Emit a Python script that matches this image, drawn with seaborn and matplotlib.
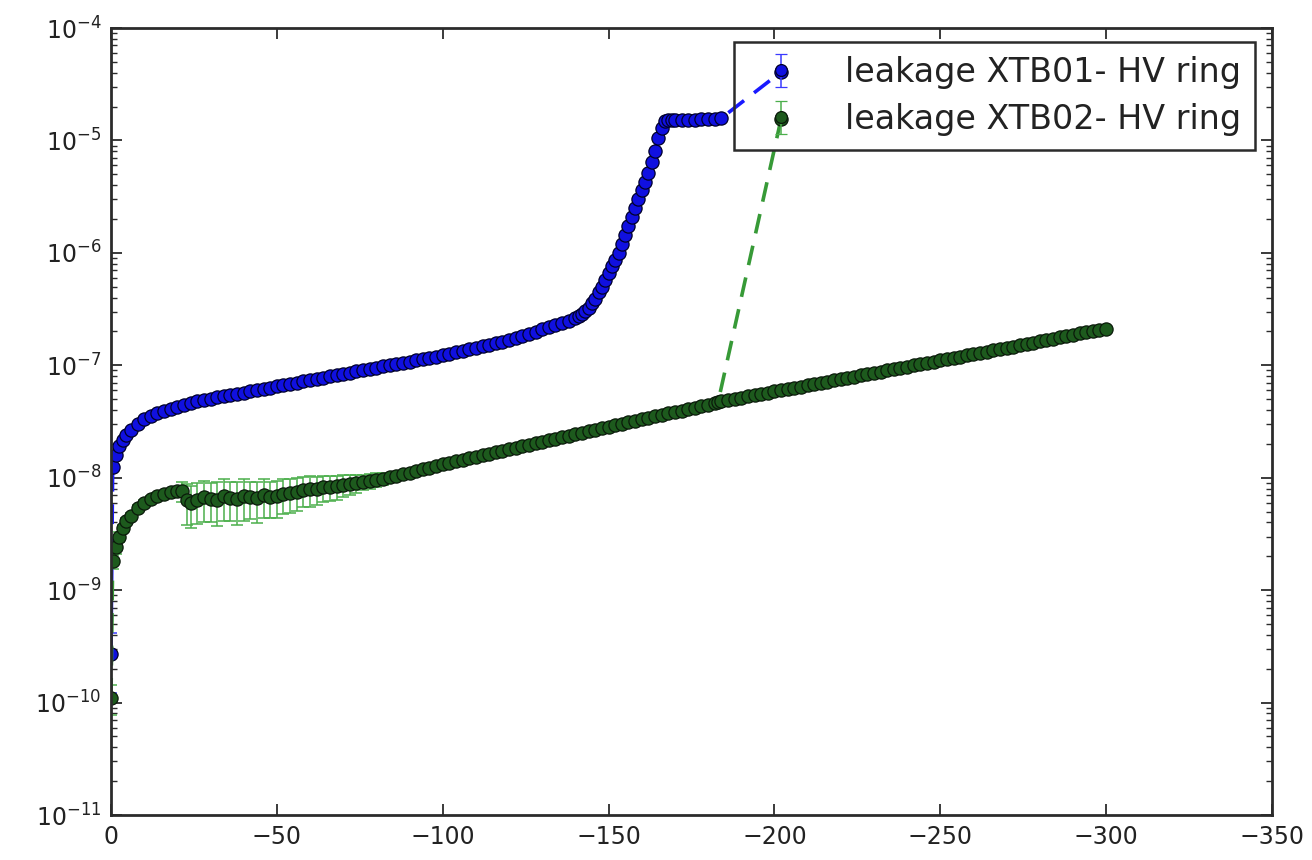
import numpy as np
import pandas as pd
import matplotlib
matplotlib.use("Agg")
import matplotlib.pyplot as plt
from matplotlib.ticker import LogLocator, FixedLocator
import seaborn as sns

# ---------------- measured IV data (bias voltage in V, leakage current in A) ----------------
xtb01_voltage = [
    0, -0.5, -1.5, -2.5, -3.5, -4.5, -6, -8, -10, -12, -14, -16, -18, -20, -22, -24, -26,
    -28, -30, -32, -34, -36, -38, -40, -42, -44, -46,
    -48, -50, -52, -54, -56, -58, -60, -62, -64, -66,
    -68, -70, -72, -74, -76, -78, -80, -82, -84, -86,
    -88, -90, -92, -94, -96, -98, -100,
    -102, -104, -106, -108, -110, -112, -114, -116, -118, -120,
    -122, -124, -126, -128, -130, -132, -134, -136, -138, -140,
    -141, -142, -143, -144, -145, -146, -147, -148, -149, -150,
    -151, -152, -153, -154, -155, -156, -157, -158, -159, -160,
    -161, -162, -163, -164, -165, -166, -167, -168, -169, -170,
    -172, -174, -176, -178, -180, -182, -184,
    -202,
]
xtb01_current = [
    2.7e-10, 1.25e-8, 1.6e-8, 1.9e-8, 2.15e-8, 2.4e-8, 2.65e-8, 3.0e-8, 3.3e-8, 3.55e-8, 3.75e-8, 3.95e-8, 4.1e-8, 4.25e-8, 4.42e-8, 4.6e-8, 4.8e-8,
    4.92e-8, 5.05e-8, 5.18e-8, 5.31e-8, 5.45e-8, 5.59e-8, 5.73e-8, 5.88e-8, 6.03e-8, 6.18e-8,
    6.34e-8, 6.51e-8, 6.67e-8, 6.85e-8, 7.02e-8, 7.20e-8, 7.39e-8, 7.58e-8, 7.77e-8, 7.97e-8,
    8.18e-8, 8.39e-8, 8.60e-8, 8.82e-8, 9.05e-8, 9.28e-8, 9.52e-8, 9.77e-8, 1.002e-7, 1.028e-7,
    1.054e-7, 1.081e-7, 1.109e-7, 1.138e-7, 1.167e-7, 1.197e-7, 1.228e-7,
    1.266e-7, 1.305e-7, 1.346e-7, 1.388e-7, 1.431e-7, 1.475e-7, 1.521e-7, 1.568e-7, 1.617e-7, 1.667e-7,
    1.744e-7, 1.824e-7, 1.908e-7, 1.996e-7, 2.088e-7, 2.184e-7, 2.284e-7, 2.389e-7, 2.499e-7, 2.62e-7,
    2.72e-7, 2.85e-7, 3.02e-7, 3.24e-7, 3.55e-7, 3.89e-7, 4.47e-7, 5.01e-7, 5.75e-7, 6.61e-7,
    7.59e-7, 8.71e-7, 1.0e-6, 1.20e-6, 1.45e-6, 1.74e-6, 2.09e-6, 2.51e-6, 3.02e-6, 3.63e-6,
    4.27e-6, 5.13e-6, 6.46e-6, 8.13e-6, 1.05e-5, 1.29e-5, 1.48e-5, 1.53e-5, 1.53e-5, 1.53e-5,
    1.52e-5, 1.52e-5, 1.53e-5, 1.54e-5, 1.55e-5, 1.56e-5, 1.58e-5,
    4.07e-5,
]
# relative uncertainty of each reading
xtb01_rel_error = [
    0.55, 0.03, 0.03, 0.03, 0.02, 0.02, 0.02, 0.02, 0.02, 0.02, 0.02, 0.02, 0.02, 0.02, 0.02, 0.02, 0.02,
    0.02, 0.02, 0.02, 0.02, 0.02, 0.02, 0.02, 0.02, 0.02, 0.02,
    0.02, 0.02, 0.02, 0.02, 0.02, 0.02, 0.02, 0.02, 0.02, 0.02,
    0.02, 0.02, 0.02, 0.02, 0.02, 0.02, 0.02, 0.02, 0.02, 0.02,
    0.02, 0.02, 0.02, 0.02, 0.02, 0.02, 0.02,
    0.02, 0.02, 0.02, 0.02, 0.02, 0.02, 0.02, 0.02, 0.02, 0.02,
    0.02, 0.02, 0.02, 0.02, 0.02, 0.02, 0.02, 0.02, 0.02, 0.02,
    0.02, 0.02, 0.02, 0.02, 0.02, 0.02, 0.02, 0.02, 0.02, 0.02,
    0.02, 0.02, 0.02, 0.02, 0.02, 0.02, 0.02, 0.02, 0.02, 0.02,
    0.02, 0.02, 0.02, 0.02, 0.02, 0.02, 0.02, 0.02, 0.02, 0.02,
    0.02, 0.02, 0.02, 0.02, 0.02, 0.02, 0.02,
    0.0,
]

xtb02_voltage = [
    0, -0.5, -1.5, -2.5, -3.5, -4.5, -6, -8, -10, -12, -14, -16, -18, -20, -21.5, -23, -24,
    -26, -28, -30, -32, -34, -36, -38, -40, -42, -44,
    -46, -48, -50, -52, -54, -56, -58, -60, -62, -64,
    -66, -68, -70, -72, -74, -76, -78, -80, -82, -84,
    -86, -88, -90, -92, -94, -96, -98, -100,
    -102, -104, -106, -108, -110, -112, -114, -116, -118, -120,
    -122, -124, -126, -128, -130, -132, -134, -136, -138, -140,
    -142, -144, -146, -148, -150, -152, -154, -156, -158, -160,
    -162, -164, -166, -168, -170, -172, -174, -176, -178, -180,
    -182, -183,
    -202,
    -184,
    -186, -188, -190, -192, -194, -196, -198, -200, -202, -204,
    -206, -208, -210, -212, -214, -216, -218, -220, -222, -224,
    -226, -228, -230, -232, -234, -236, -238, -240, -242, -244,
    -246, -248, -250, -252, -254, -256, -258, -260, -262, -264,
    -266, -268, -270, -272, -274, -276, -278, -280, -282, -284,
    -286, -288, -290, -292, -294, -296, -298, -300,
]
xtb02_current = [
    1.1e-10, 1.8e-9, 2.4e-9, 3.0e-9, 3.55e-9, 4.1e-9, 4.6e-9, 5.4e-9, 6.0e-9, 6.5e-9, 6.9e-9, 7.2e-9, 7.5e-9, 7.7e-9, 7.6e-9, 6.3e-9, 6.0e-9,
    6.4e-9, 6.7e-9, 6.5e-9, 6.4e-9, 6.9e-9, 6.6e-9, 6.5e-9, 6.9e-9, 6.7e-9, 6.6e-9,
    7.0e-9, 6.8e-9, 6.9e-9, 7.2e-9, 7.3e-9, 7.5e-9, 7.8e-9, 7.9e-9, 8.0e-9, 8.2e-9,
    8.3e-9, 8.4e-9, 8.6e-9, 8.8e-9, 9.0e-9, 9.2e-9, 9.4e-9, 9.6e-9, 9.8e-9, 10.1e-9,
    10.4e-9, 10.7e-9, 11.1e-9, 11.5e-9, 11.9e-9, 12.3e-9, 12.8e-9, 13.2e-9,
    1.36e-8, 1.40e-8, 1.445e-8, 1.49e-8, 1.536e-8, 1.584e-8, 1.633e-8, 1.684e-8, 1.736e-8, 1.79e-8,
    1.845e-8, 1.90e-8, 1.96e-8, 2.02e-8, 2.085e-8, 2.15e-8, 2.217e-8, 2.286e-8, 2.357e-8, 2.43e-8,
    2.505e-8, 2.583e-8, 2.663e-8, 2.746e-8, 2.831e-8, 2.919e-8, 3.01e-8, 3.103e-8, 3.2e-8, 3.3e-8,
    3.40e-8, 3.51e-8, 3.62e-8, 3.73e-8, 3.84e-8, 3.96e-8, 4.09e-8, 4.21e-8, 4.34e-8, 4.48e-8,
    4.62e-8, 4.70e-8,
    1.55e-5,
    4.77e-8,
    4.89e-8, 5.02e-8, 5.15e-8, 5.28e-8, 5.42e-8, 5.56e-8, 5.70e-8, 5.85e-8, 6.0e-8, 6.15e-8,
    6.31e-8, 6.47e-8, 6.64e-8, 6.81e-8, 6.99e-8, 7.17e-8, 7.35e-8, 7.54e-8, 7.74e-8, 7.94e-8,
    8.14e-8, 8.35e-8, 8.57e-8, 8.79e-8, 9.01e-8, 9.25e-8, 9.49e-8, 9.73e-8, 9.98e-8, 10.24e-8,
    10.5e-8, 10.77e-8, 11.05e-8, 11.34e-8, 11.63e-8, 11.93e-8, 12.24e-8, 12.56e-8, 12.88e-8, 13.21e-8,
    13.55e-8, 13.9e-8, 14.28e-8, 14.67e-8, 15.07e-8, 15.48e-8, 15.9e-8, 16.34e-8, 16.78e-8, 17.24e-8,
    17.71e-8, 18.2e-8, 18.7e-8, 19.2e-8, 19.7e-8, 20.2e-8, 20.6e-8, 21.0e-8,
]
xtb02_rel_error = [
    0.3, 0.15, 0.12, 0.1, 0.08, 0.07, 0.06, 0.05, 0.05, 0.05, 0.05, 0.05, 0.04, 0.04, 0.2, 0.4, 0.4,
    0.4, 0.4, 0.38, 0.42, 0.4, 0.38, 0.42, 0.4, 0.36, 0.4,
    0.38, 0.36, 0.36, 0.34, 0.34, 0.32, 0.3, 0.3, 0.28, 0.26,
    0.25, 0.24, 0.22, 0.2, 0.18, 0.16, 0.15, 0.14, 0.12, 0.1,
    0.09, 0.08, 0.07, 0.06, 0.05, 0.05, 0.04, 0.04,
    0.04, 0.03, 0.04, 0.03, 0.04, 0.03, 0.04, 0.03, 0.04, 0.03,
    0.04, 0.03, 0.04, 0.03, 0.04, 0.03, 0.04, 0.03, 0.04, 0.03,
    0.04, 0.03, 0.04, 0.03, 0.04, 0.03, 0.04, 0.03, 0.04, 0.03,
    0.04, 0.03, 0.04, 0.03, 0.04, 0.03, 0.04, 0.03, 0.04, 0.03,
    0.04, 0.03,
    0.0,
    0.03,
    0.04, 0.05, 0.04, 0.05, 0.04, 0.05, 0.04, 0.05, 0.04, 0.05,
    0.04, 0.05, 0.04, 0.05, 0.04, 0.05, 0.04, 0.05, 0.04, 0.05,
    0.04, 0.05, 0.04, 0.05, 0.04, 0.05, 0.04, 0.05, 0.04, 0.05,
    0.04, 0.05, 0.04, 0.05, 0.04, 0.05, 0.04, 0.05, 0.04, 0.05,
    0.04, 0.05, 0.04, 0.05, 0.04, 0.05, 0.04, 0.05, 0.04, 0.05,
    0.04, 0.05, 0.04, 0.05, 0.04, 0.05, 0.04, 0.05,
]

series_labels = ["leakage XTB01- HV ring", "leakage XTB02- HV ring"]
x_ticks = [0, -50, -100, -150, -200, -250, -300, -350]

# ---------------- style ----------------
sns.set_theme(style="ticks")
plt.rcParams["font.family"] = ["DejaVu Sans"]
plt.rcParams["mathtext.fontset"] = "dejavusans"

AXIS_COLOR = "#2b2b2b"
series_styles = [
    dict(line="#1a1aff", face="#1010e0", edge="#00002a", ecolor="#3a3aff"),
    dict(line="#379a37", face="#1d5a1d", edge="#0a1a0a", ecolor="#4caf4c"),
]

fig = plt.figure(figsize=(13.12, 8.6), dpi=100)
ax = fig.add_axes([0.0846, 0.0523, 0.9695 - 0.0846, 0.9674 - 0.0523])

datasets = [
    (xtb01_voltage, xtb01_current, xtb01_rel_error),
    (xtb02_voltage, xtb02_current, xtb02_rel_error),
]

legend_handles = []
for (volt, cur, rel), label, st in zip(datasets, series_labels, series_styles):
    df = pd.DataFrame({"V": volt, "I": cur, "rel": rel})
    df["err"] = df["I"] * df["rel"]
    # the breakdown spike closes one sweep segment; readings after it start a new one
    spike = int(df["I"].idxmax())
    df["segment"] = (df.index > spike).astype(int)
    ax.errorbar(df["V"], df["I"], yerr=df["err"], fmt="none",
                ecolor=st["ecolor"], elinewidth=1.1, capsize=4, capthick=1.1,
                zorder=2)
    sns.lineplot(data=df, x="V", y="I", units="segment", sort=False,
                 estimator=None, ax=ax, legend=False,
                 color=st["line"], linestyle="--", linewidth=2.6,
                 marker="o", markersize=9.5, markerfacecolor=st["face"],
                 markeredgecolor=st["edge"], markeredgewidth=0.9, zorder=3)
    for ln in ax.lines:
        if ln.get_linestyle() == "--":
            ln.set_dashes((5.5, 3.5))
    # legend key: marker with its error bar
    key = ax.errorbar([np.nan], [np.nan], yerr=[1.0], fmt="o", markersize=8.5,
                      color=st["face"], markeredgecolor=st["edge"],
                      markeredgewidth=0.9, ecolor=st["ecolor"], elinewidth=1.1,
                      capsize=4, capthick=1.1)
    legend_handles.append(key)

ax.set_yscale("log")
ax.set_ylim(1e-11, 1e-4)
ax.set_xlim(0, -350)
ax.xaxis.set_major_locator(FixedLocator(x_ticks))
ax.yaxis.set_major_locator(LogLocator(base=10, numticks=20))
ax.yaxis.set_minor_locator(LogLocator(base=10, subs=np.arange(2, 10), numticks=20))
ax.set_xlabel("")
ax.set_ylabel("")

for side in ["left", "right", "top", "bottom"]:
    sp = ax.spines[side]
    sp.set_visible(True)
    sp.set_color(AXIS_COLOR)
    sp.set_linewidth(2.0)
    sp.set_zorder(5)

ax.tick_params(which="both", direction="in", top=True, right=True,
               color=AXIS_COLOR, labelcolor="#222222")
ax.tick_params(which="major", length=8, width=1.3, labelsize=17, pad=7)
ax.tick_params(which="minor", length=4, width=1.0)

leg = ax.legend(legend_handles, series_labels, loc="upper right",
                bbox_to_anchor=(0.9853, 0.9822), borderaxespad=0.0,
                fontsize=24, numpoints=1, fancybox=False, framealpha=1.0,
                handlelength=2.0, handletextpad=0.9, borderpad=0.42,
                labelspacing=0.42)
frame = leg.get_frame()
frame.set_facecolor("none")
frame.set_edgecolor(AXIS_COLOR)
frame.set_linewidth(1.8)
for t in leg.get_texts():
    t.set_color("#222222")

fig.savefig("out.png", dpi=100)
